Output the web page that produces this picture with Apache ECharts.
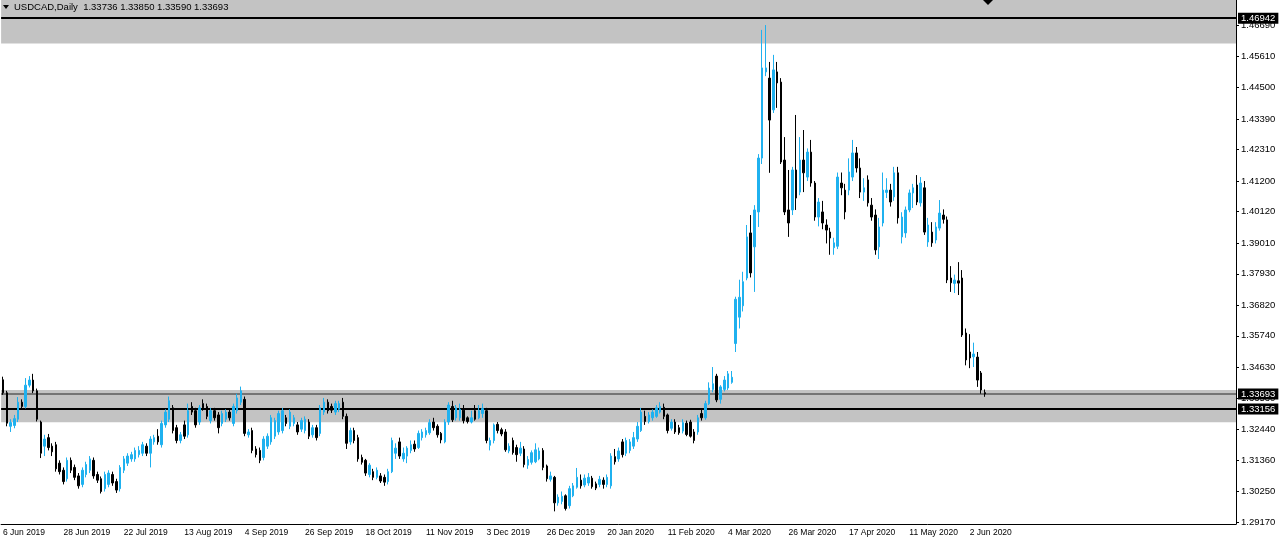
<!DOCTYPE html>
<html><head><meta charset="utf-8">
<script src="https://cdn.jsdelivr.net/npm/echarts@6/dist/echarts.min.js"></script>
<style>html,body{margin:0;padding:0;background:#fff}#c{width:1280px;height:543px}</style>
</head><body><div id="c"></div>
<script>
// ---- data ----
const symbolTitle = 'USDCAD,Daily';
const titleValues = ['1.33736', '1.33850', '1.33590', '1.33693'];
const tickLabels = ['6 Jun 2019','28 Jun 2019','22 Jul 2019','13 Aug 2019','4 Sep 2019','26 Sep 2019','18 Oct 2019','11 Nov 2019','3 Dec 2019','26 Dec 2019','20 Jan 2020','11 Feb 2020','4 Mar 2020','26 Mar 2020','17 Apr 2020','11 May 2020','2 Jun 2020'];
const priceTicks = [1.29170,1.30250,1.31360,1.32440,1.33530,1.34630,1.35740,1.36820,1.37930,1.39010,1.40120,1.41200,1.42310,1.43390,1.44500,1.45610,1.46690];
const priceRange = [1.29104, 1.47585];
const upperZone = [1.4605, 1.47585];
const lowerZone = [1.3269, 1.3383];
const resistanceLine = 1.46942;
const bidLine = 1.33693;
const supportLine = 1.33156;
// [open, close, low, high]
const candles = [
[1.3419,1.3373,1.3366,1.3430],[1.3373,1.3266,1.3255,1.3380],[1.3255,1.3268,1.3235,1.3280],[1.3258,1.3282,1.3248,1.3295],
[1.3280,1.3340,1.3270,1.3358],[1.3340,1.3325,1.3315,1.3350],[1.3325,1.3400,1.3318,1.3425],[1.3400,1.3418,1.3392,1.3432],
[1.3418,1.3380,1.3372,1.3440],[1.3380,1.3280,1.3272,1.3388],[1.3270,1.3160,1.3143,1.3275],[1.3185,1.3210,1.3150,1.3225],
[1.3215,1.3180,1.3170,1.3228],[1.3185,1.3165,1.3150,1.3195],[1.3190,1.3105,1.3095,1.3200],[1.3125,1.3095,1.3085,1.3135],
[1.3100,1.3060,1.3050,1.3110],[1.3070,1.3135,1.3060,1.3145],[1.3135,1.3100,1.3090,1.3145],[1.3110,1.3075,1.3065,1.3120],
[1.3080,1.3045,1.3035,1.3090],[1.3050,1.3100,1.3040,1.3110],[1.3085,1.3120,1.3075,1.3130],[1.3100,1.3140,1.3090,1.3150],
[1.3135,1.3080,1.3070,1.3145],[1.3085,1.3065,1.3055,1.3095],[1.3070,1.3025,1.3018,1.3078],[1.3035,1.3085,1.3025,1.3095],
[1.3050,1.3090,1.3040,1.3100],[1.3085,1.3055,1.3045,1.3095],[1.3060,1.3030,1.3020,1.3070],[1.3035,1.3110,1.3025,1.3118],
[1.3100,1.3140,1.3090,1.3150],[1.3125,1.3150,1.3115,1.3160],[1.3140,1.3155,1.3130,1.3165],[1.3140,1.3170,1.3130,1.3180],
[1.3155,1.3170,1.3145,1.3185],[1.3160,1.3190,1.3150,1.3200],[1.3185,1.3160,1.3150,1.3195],[1.3160,1.3210,1.3110,1.3220],
[1.3200,1.3215,1.3190,1.3225],[1.3220,1.3200,1.3190,1.3245],[1.3190,1.3265,1.3180,1.3275],[1.3260,1.3305,1.3250,1.3315],
[1.3280,1.3345,1.3270,1.3360],[1.3320,1.3240,1.3230,1.3330],[1.3250,1.3205,1.3195,1.3260],[1.3205,1.3225,1.3195,1.3235],
[1.3260,1.3220,1.3210,1.3275],[1.3225,1.3310,1.3215,1.3335],[1.3325,1.3305,1.3295,1.3340],[1.3310,1.3260,1.3250,1.3320],
[1.3270,1.3320,1.3260,1.3330],[1.3335,1.3320,1.3310,1.3350],[1.3325,1.3290,1.3280,1.3335],[1.3275,1.3310,1.3265,1.3320],
[1.3310,1.3285,1.3275,1.3320],[1.3295,1.3250,1.3230,1.3305],[1.3265,1.3300,1.3255,1.3310],[1.3280,1.3305,1.3270,1.3315],
[1.3305,1.3285,1.3275,1.3315],[1.3265,1.3325,1.3255,1.3335],[1.3310,1.3355,1.3300,1.3370],[1.3340,1.3380,1.3330,1.3395],
[1.3350,1.3230,1.3220,1.3360],[1.3225,1.3235,1.3215,1.3245],[1.3240,1.3170,1.3160,1.3250],[1.3175,1.3155,1.3145,1.3185],
[1.3170,1.3135,1.3125,1.3180],[1.3145,1.3210,1.3135,1.3220],[1.3185,1.3220,1.3175,1.3230],[1.3200,1.3285,1.3190,1.3295],
[1.3220,1.3275,1.3210,1.3285],[1.3235,1.3300,1.3225,1.3310],[1.3240,1.3310,1.3230,1.3320],[1.3285,1.3265,1.3255,1.3295],
[1.3255,1.3305,1.3245,1.3315],[1.3265,1.3285,1.3255,1.3295],[1.3260,1.3235,1.3225,1.3270],[1.3245,1.3275,1.3235,1.3285],
[1.3240,1.3280,1.3230,1.3290],[1.3270,1.3220,1.3210,1.3280],[1.3225,1.3250,1.3215,1.3260],[1.3250,1.3215,1.3205,1.3260],
[1.3230,1.3320,1.3220,1.3330],[1.3305,1.3340,1.3295,1.3355],[1.3340,1.3310,1.3300,1.3350],[1.3325,1.3312,1.3302,1.3335],
[1.3305,1.3335,1.3295,1.3345],[1.3315,1.3335,1.3305,1.3345],[1.3340,1.3290,1.3280,1.3355],[1.3290,1.3195,1.3175,1.3300],
[1.3200,1.3240,1.3190,1.3250],[1.3240,1.3205,1.3195,1.3250],[1.3215,1.3140,1.3130,1.3225],[1.3145,1.3128,1.3120,1.3155],
[1.3135,1.3090,1.3080,1.3140],[1.3085,1.3118,1.3075,1.3125],[1.3095,1.3075,1.3065,1.3105],[1.3075,1.3100,1.3068,1.3110],
[1.3080,1.3062,1.3055,1.3090],[1.3075,1.3058,1.3045,1.3085],[1.3060,1.3095,1.3050,1.3105],[1.3095,1.3205,1.3090,1.3215],
[1.3160,1.3178,1.3140,1.3195],[1.3200,1.3150,1.3140,1.3215],[1.3140,1.3160,1.3130,1.3180],[1.3150,1.3178,1.3125,1.3185],
[1.3170,1.3190,1.3160,1.3205],[1.3192,1.3175,1.3165,1.3205],[1.3180,1.3230,1.3175,1.3240],[1.3215,1.3235,1.3205,1.3245],
[1.3225,1.3240,1.3215,1.3250],[1.3232,1.3268,1.3225,1.3280],[1.3270,1.3250,1.3240,1.3285],[1.3255,1.3225,1.3215,1.3262],
[1.3230,1.3207,1.3195,1.3235],[1.3200,1.3270,1.3195,1.3280],[1.3270,1.3330,1.3260,1.3340],[1.3325,1.3278,1.3270,1.3345],
[1.3285,1.3320,1.3275,1.3330],[1.3285,1.3315,1.3275,1.3335],[1.3312,1.3275,1.3265,1.3330],[1.3285,1.3272,1.3265,1.3290],
[1.3270,1.3285,1.3265,1.3310],[1.3310,1.3280,1.3275,1.3330],[1.3285,1.3310,1.3280,1.3330],[1.3300,1.3318,1.3285,1.3335],
[1.3310,1.3205,1.3195,1.3320],[1.3188,1.3205,1.3170,1.3215],[1.3205,1.3260,1.3195,1.3265],[1.3262,1.3240,1.3230,1.3270],
[1.3243,1.3228,1.3220,1.3250],[1.3235,1.3172,1.3165,1.3245],[1.3168,1.3185,1.3160,1.3195],[1.3205,1.3162,1.3155,1.3215],
[1.3180,1.3155,1.3130,1.3190],[1.3160,1.3178,1.3150,1.3200],[1.3175,1.3120,1.3110,1.3185],[1.3118,1.3138,1.3105,1.3150],
[1.3128,1.3162,1.3120,1.3170],[1.3130,1.3172,1.3125,1.3195],[1.3140,1.3168,1.3135,1.3180],[1.3170,1.3110,1.3100,1.3178],
[1.3115,1.3070,1.3060,1.3120],[1.3068,1.3080,1.3060,1.3095],[1.3075,1.2985,1.2955,1.3080],[1.2985,1.3005,1.2975,1.3015],
[1.2990,1.3008,1.2980,1.3025],[1.3010,1.2965,1.2958,1.3015],[1.2975,1.3035,1.2965,1.3045],[1.3010,1.3045,1.3005,1.3055],
[1.3040,1.3075,1.3035,1.3108],[1.3065,1.3045,1.3035,1.3085],[1.3048,1.3072,1.3040,1.3085],[1.3055,1.3075,1.3045,1.3090],
[1.3072,1.3042,1.3035,1.3080],[1.3052,1.3037,1.3030,1.3060],[1.3050,1.3068,1.3040,1.3080],[1.3065,1.3050,1.3035,1.3075],
[1.3050,1.3075,1.3040,1.3085],[1.3045,1.3150,1.3035,1.3160],[1.3148,1.3130,1.3120,1.3175],[1.3140,1.3168,1.3130,1.3180],
[1.3200,1.3155,1.3145,1.3210],[1.3160,1.3205,1.3150,1.3215],[1.3170,1.3200,1.3160,1.3210],[1.3185,1.3215,1.3175,1.3235],
[1.3210,1.3255,1.3200,1.3270],[1.3240,1.3305,1.3235,1.3320],[1.3290,1.3272,1.3260,1.3310],[1.3272,1.3295,1.3265,1.3305],
[1.3285,1.3305,1.3275,1.3315],[1.3290,1.3320,1.3285,1.3330],[1.3305,1.3325,1.3300,1.3340],[1.3322,1.3290,1.3280,1.3335],
[1.3295,1.3240,1.3230,1.3300],[1.3248,1.3270,1.3240,1.3280],[1.3270,1.3235,1.3228,1.3280],[1.3250,1.3232,1.3225,1.3260],
[1.3238,1.3268,1.3230,1.3280],[1.3266,1.3226,1.3220,1.3275],[1.3270,1.3220,1.3215,1.3278],[1.3235,1.3205,1.3195,1.3245],
[1.3235,1.3285,1.3225,1.3295],[1.3300,1.3285,1.3275,1.3315],[1.3285,1.3335,1.3278,1.3345],[1.3335,1.3390,1.3330,1.3410],
[1.3385,1.3405,1.3375,1.3464],[1.3432,1.3348,1.3340,1.3440],[1.3350,1.3394,1.3335,1.3400],[1.3385,1.3418,1.3378,1.3432],
[1.3390,1.3440,1.3383,1.3450],[1.3410,1.3428,1.3405,1.3450],[1.3547,1.3703,1.3517,1.3712],[1.3640,1.3710,1.3600,1.3772],
[1.3680,1.3765,1.3660,1.3800],[1.3778,1.3923,1.3770,1.3965],[1.3937,1.3796,1.3780,1.4000],[1.3888,1.4018,1.3729,1.4035],
[1.4011,1.4201,1.3958,1.4215],[1.4201,1.4519,1.4180,1.4653],[1.4505,1.4519,1.4490,1.4670],[1.4483,1.4335,1.4149,1.4540],
[1.4371,1.4512,1.4360,1.4565],[1.4505,1.4466,1.4378,1.4540],[1.4469,1.4187,1.4180,1.4483],[1.4194,1.4011,1.4000,1.4275],
[1.4018,1.3972,1.3923,1.4159],[1.4018,1.4159,1.4000,1.4170],[1.4159,1.4060,1.4018,1.4353],[1.4081,1.4194,1.4070,1.4275],
[1.4194,1.4149,1.4081,1.4300],[1.4134,1.4222,1.4120,1.4235],[1.4222,1.4113,1.4100,1.4265],[1.4113,1.3993,1.3980,1.4120],
[1.3993,1.4046,1.3960,1.4060],[1.4011,1.3972,1.3950,1.4050],[1.3965,1.3947,1.3900,1.3985],[1.3940,1.3919,1.3860,1.3955],
[1.3885,1.3902,1.3860,1.3920],[1.3890,1.4134,1.3880,1.4150],[1.4113,1.4096,1.4070,1.4150],[1.4088,1.4011,1.3985,1.4110],
[1.4088,1.4152,1.4070,1.4200],[1.4134,1.4219,1.4120,1.4265],[1.4219,1.4166,1.4150,1.4240],[1.4166,1.4081,1.4060,1.4200],
[1.4081,1.4096,1.4050,1.4130],[1.4124,1.4043,1.4030,1.4140],[1.4035,1.3993,1.3980,1.4060],[1.4000,1.3877,1.3860,1.4020],
[1.3888,1.3958,1.3845,1.3990],[1.3972,1.4088,1.3960,1.4150],[1.4080,1.4088,1.4060,1.4130],[1.4088,1.4046,1.4030,1.4110],
[1.4064,1.4149,1.4050,1.4170],[1.4149,1.3990,1.3970,1.4170],[1.3923,1.3993,1.3900,1.4010],[1.3937,1.4018,1.3920,1.4030],
[1.4018,1.4078,1.4010,1.4090],[1.4078,1.4096,1.4025,1.4110],[1.4106,1.4046,1.4035,1.4141],[1.4043,1.4113,1.4030,1.4134],
[1.4096,1.3940,1.3930,1.4120],[1.3905,1.3965,1.3888,1.3990],[1.3940,1.3902,1.3888,1.3975],[1.3912,1.3958,1.3900,1.3975],
[1.3954,1.4007,1.3945,1.4053],[1.4000,1.3985,1.3970,1.4020],[1.3983,1.3771,1.3760,1.3995],[1.3778,1.3761,1.3729,1.3820],
[1.3759,1.3771,1.3725,1.3790],[1.3768,1.3760,1.3718,1.3834],[1.3778,1.3577,1.3570,1.3806],[1.3584,1.3489,1.3470,1.3600],
[1.3517,1.3496,1.3460,1.3580],[1.3500,1.3510,1.3464,1.3550],[1.3499,1.3418,1.3394,1.3517],[1.3443,1.3383,1.3370,1.3450],
[1.33736,1.33693,1.33590,1.33850]
];
// ---- chart ----
const totalSlots = 327;
const cats = [];
for (let i = 0; i < totalSlots; i++) {
  cats.push(i % 16 === 0 && i / 16 < tickLabels.length ? tickLabels[i / 16] : '');
}
const BULL = '#1fb1ef';
const FONT = '"Liberation Sans", Arial, sans-serif';
const chart = echarts.init(document.getElementById('c'), null, { renderer: 'canvas' });
const lineLabel = (bg) => ({
  show: true, position: 'end', distance: 2,
  formatter: p => Number(p.value).toFixed(5),
  backgroundColor: bg, color: '#fff', padding: [1, 3, 0, 3],
  fontSize: 9.5, fontFamily: FONT
});
chart.setOption({
  animation: false,
  backgroundColor: '#fff',
  grid: { left: -2, right: 44, top: 0, bottom: 19, containLabel: false },
  xAxis: {
    type: 'category', data: cats, boundaryGap: true,
    axisLine: { lineStyle: { color: '#000', width: 1 } },
    axisTick: { interval: (i) => cats[i] !== '', alignWithLabel: true, length: 4, lineStyle: { color: '#000' } },
    axisLabel: { interval: (i) => cats[i] !== '', align: 'left', margin: 4, fontSize: 8.5, color: '#000', fontFamily: FONT },
    splitLine: { show: false }
  },
  yAxis: {
    type: 'value', position: 'right', min: priceRange[0], max: priceRange[1],
    axisLine: { show: true, lineStyle: { color: '#000' } },
    axisTick: { show: true, customValues: priceTicks, length: 3, lineStyle: { color: '#000' } },
    axisLabel: { customValues: priceTicks, formatter: v => v.toFixed(5), fontSize: 9.5, color: '#000', margin: 5, fontFamily: FONT },
    splitLine: { show: false }
  },
  graphic: [
    { type: 'polygon', shape: { points: [[3, 5], [9, 5], [6, 9]] }, style: { fill: '#000' }, z: 100 },
    { type: 'text', left: 14, top: 2, z: 100, style: { text: symbolTitle + '  ' + titleValues.join(' '), fontSize: 9.5, fill: '#000', fontFamily: FONT } },
    { type: 'polygon', shape: { points: [[983, 0], [993, 0], [988, 5]] }, style: { fill: '#000' }, z: 100 }
  ],
  series: [
    {
      type: 'line', data: [], z: 1, silent: true,
      markArea: {
        silent: true,
        itemStyle: { color: '#c3c3c3', opacity: 1 },
        data: [
          [{ yAxis: upperZone[0] }, { yAxis: upperZone[1] }],
          [{ yAxis: lowerZone[0] }, { yAxis: lowerZone[1] }]
        ]
      },
      markLine: {
        silent: true, symbol: 'none', animation: false, precision: 5,
        data: [
          { yAxis: resistanceLine, lineStyle: { color: '#000', width: 2, type: 'solid' }, label: lineLabel('#000') },
          { yAxis: bidLine, lineStyle: { color: '#5a5a5a', width: 1.5, type: 'solid' }, label: lineLabel('#000') },
          { yAxis: supportLine, lineStyle: { color: '#000', width: 2, type: 'solid' }, label: lineLabel('#000') }
        ]
      }
    },
    {
      type: 'candlestick', z: 5, data: candles, barWidth: 2,
      itemStyle: { color: BULL, color0: '#000', borderColor: BULL, borderColor0: '#000', borderWidth: 1 }
    }
  ]
});
</script></body></html>
